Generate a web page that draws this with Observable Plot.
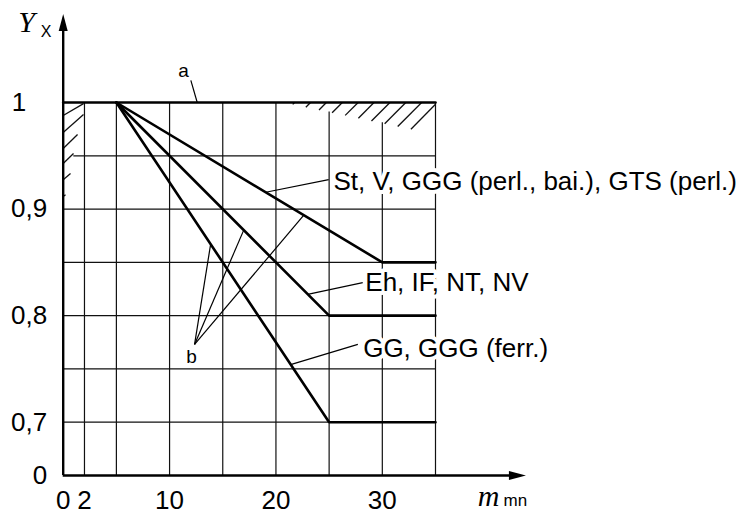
<!DOCTYPE html>
<html><head><meta charset="utf-8">
<script src="https://cdn.jsdelivr.net/npm/d3@7"></script>
<script src="https://cdn.jsdelivr.net/npm/@observablehq/plot@0.6"></script>
<style>html,body{margin:0;padding:0;background:#fff}</style>
</head><body><div id="chart"></div>
<script>
// ---- data ----
const curveNames = ["St, V, GGG (perl., bai.), GTS (perl.)", "Eh, IF, NT, NV", "GG, GGG (ferr.)"];
const stM = [5, 30, 35], stY = [1, 0.85, 0.85];
const ehM = [5, 25, 35], ehY = [1, 0.80, 0.80];
const ggM = [5, 25, 35], ggY = [1, 0.70, 0.70];
const limitM = [0, 35], limitY = [1, 1];

const xTickValues = [0, 2, 10, 20, 30];
const xTickLabels = ["0", "2", "10", "20", "30"];
const yTickValues = [0.65, 0.7, 0.8, 0.9];
const yTickLabels = ["0", "0,7", "0,8", "0,9"];
const yTopTick = [1], yTopLabel = ["1"];

const xGrid = [2, 5, 10, 15, 20, 25, 30, 35];
const xGridTop = [1, 1, 1, 1, 1, 0.991, 0.981, 1];
const yGrid = [0.7, 0.75, 0.8, 0.85, 0.9, 0.95];
const yGridStart = [0, 0, 0, 0, 0, 1];

// hatching (decoration) in data units
const hTopX1 = [21.58, 22.81, 24.05, 25.28, 26.51, 27.75, 28.98, 30.22, 31.45, 32.69];
const hTopX2 = [21.75, 23.25, 24.74, 26.24, 27.73, 29.22, 30.72, 32.21, 33.70, 35.0];
const hTopY1 = [0.9982, 0.9956, 0.9930, 0.9904, 0.9879, 0.9852, 0.9827, 0.9801, 0.9775, 0.9749];
const hTopY2 = [1, 1, 1, 1, 1, 1, 1, 1, 1, 0.9983];
const hLeftX2 = [1.91, 1.91, 1.35, 0.97, 0.69, 0.22];
const hLeftY1 = [0.9878, 0.9718, 0.9568, 0.9427, 0.9276, 0.9117];
const hLeftY2 = [0.999, 0.9887, 0.9699, 0.9521, 0.9333, 0.9135];

// annotations
const labelX = [25.4, 28.4, 28.2];
const labelY = [0.9258, 0.831, 0.769];
const leadX1 = [19.04, 22.98, 21.38], leadY1 = [0.9158, 0.820, 0.754];
const leadX2 = [24.96, 28.16, 27.7], leadY2 = [0.9276, 0.831, 0.773];
const bX = 12.07, bY = 0.7613, bStartX = 12.35, bStartY = 0.773;
const bEndX = [13.86, 16.96, 22.6], bEndY = [0.867, 0.880, 0.894];
const aX = 11.32, aY = 1.030, aLeadX = [12.0, 12.6], aLeadY = [1.0207, 1.0];
const yAxisEnd = 1.083, xAxisEnd = 43.5;

// ---- tables ----
const curves = [];
[[stM, stY], [ehM, ehY], [ggM, ggY], [limitM, limitY]].forEach(([ms, ys], k) =>
  ms.forEach((m, i) => curves.push({k, m, y: ys[i]})));
const vgrid = xGrid.map((x, i) => ({x, top: xGridTop[i]}));
const hgrid = yGrid.map((y, i) => ({y, start: yGridStart[i]}));
const hatch = hTopX1.map((x, i) => ({x1: x, x2: hTopX2[i], y1: hTopY1[i], y2: hTopY2[i]}))
  .concat(hLeftX2.map((x, i) => ({x1: 0, x2: x, y1: hLeftY1[i], y2: hLeftY2[i]})));
const labels = curveNames.map((t, i) => ({t, x: labelX[i], y: labelY[i]}));
const leaders = leadX1.map((x, i) => ({x1: x, y1: leadY1[i], x2: leadX2[i], y2: leadY2[i]}))
  .concat(bEndX.map((x, i) => ({x1: bStartX, y1: bStartY, x2: x, y2: bEndY[i]})))
  .concat([{x1: aLeadX[0], y1: aLeadY[0], x2: aLeadX[1], y2: aLeadY[1]}]);
const xLab = new Map(xTickValues.map((v, i) => [v, xTickLabels[i]]));
const yLab = new Map(yTickValues.map((v, i) => [v, yTickLabels[i]]));

const arrowUp = {draw(ctx) { ctx.moveTo(0, 0); ctx.lineTo(4.5, 17); ctx.lineTo(-4.5, 17); ctx.closePath(); }};

const sans = "'Liberation Sans', Arial, Helvetica, sans-serif";
const serif = "'Liberation Serif', 'Times New Roman', serif";

const chart = Plot.plot({
  width: 747, height: 514,
  marginLeft: 62.7, marginRight: 312, marginTop: 102, marginBottom: 39,
  x: {domain: [0, 35]},
  y: {domain: [0.65, 1]},
  style: {fontFamily: sans, fontSize: "26px", background: "white", color: "black"},
  marks: [
    Plot.ruleX(vgrid, {x: "x", y1: 0.65, y2: "top", stroke: "#111", strokeWidth: 1.2}),
    Plot.ruleY(hgrid, {y: "y", x1: "start", x2: 35, stroke: "#111", strokeWidth: 1.2}),
    Plot.link(hatch, {x1: "x1", y1: "y1", x2: "x2", y2: "y2", stroke: "#111", strokeWidth: 1.3}),
    Plot.line(curves, {x: "m", y: "y", z: "k", stroke: "black", strokeWidth: 2.6, strokeLinejoin: "miter"}),
    Plot.link(leaders, {x1: "x1", y1: "y1", x2: "x2", y2: "y2", stroke: "black", strokeWidth: 1.2}),
    Plot.ruleX([0], {y1: 0.65, y2: yAxisEnd - 0.01, stroke: "black", strokeWidth: 2.4}),
    Plot.ruleY([0.65], {x1: 0, x2: xAxisEnd - 0.8, stroke: "black", strokeWidth: 2.4}),
    Plot.dot([0], {x: 0, y: yAxisEnd, symbol: arrowUp, fill: "black", stroke: "none"}),
    Plot.dot([0], {x: xAxisEnd, y: 0.65, symbol: arrowUp, rotate: 90, fill: "black", stroke: "none"}),
    Plot.text(labels, {x: "x", y: "y", text: "t", textAnchor: "start", lineAnchor: "middle",
      fontSize: 26, fill: "black", stroke: "white", strokeWidth: 8, paintOrder: "stroke"}),
    Plot.text(["a"], {x: aX, y: aY, text: d => d, fontSize: 19, lineAnchor: "middle", fill: "black"}),
    Plot.text(["b"], {x: bX, y: bY, text: d => d, fontSize: 19, lineAnchor: "middle", fill: "black"}),
    Plot.axisX(xTickValues, {tickSize: 0, tickPadding: 15, tickFormat: d => xLab.get(d), fontSize: 26, label: null}),
    Plot.axisY(yTickValues, {tickSize: 0, tickPadding: 16, tickFormat: d => yLab.get(d), fontSize: 26, label: null}),
    Plot.axisY(yTopTick, {tickSize: 0, tickPadding: 37, tickFormat: d => yTopLabel[0], fontSize: 26, label: null}),
    Plot.text(["Y"], {x: -3.45, y: 1.0658, text: d => d, fontFamily: serif, fontStyle: "italic", fontSize: 30, lineAnchor: "bottom", fill: "black"}),
    Plot.text(["X"], {x: -1.62, y: 1.0611, text: d => d, fontSize: 16, lineAnchor: "bottom", fill: "black"}),
    Plot.text(["m"], {x: 40.0, y: 0.6215, text: d => d, fontFamily: serif, fontStyle: "italic", fontSize: 30, lineAnchor: "bottom", fill: "black"}),
    Plot.text(["mn"], {x: 42.5, y: 0.6215, text: d => d, fontSize: 17, lineAnchor: "bottom", fill: "black"})
  ]
});
document.getElementById("chart").appendChild(chart);
</script>
</body></html>
